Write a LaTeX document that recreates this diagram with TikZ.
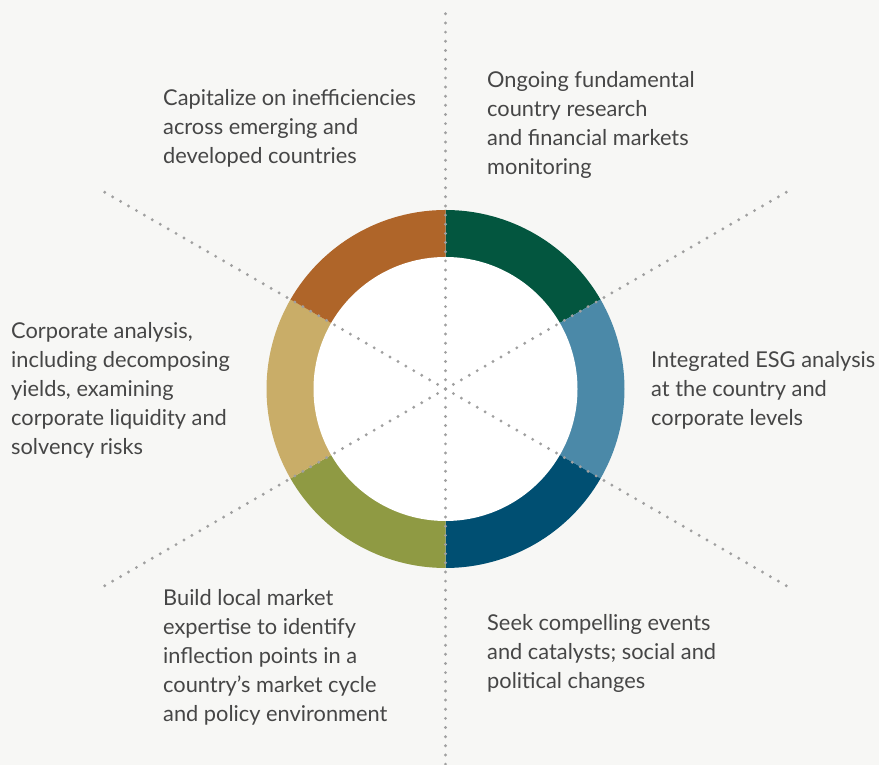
\documentclass[tikz,border=0pt]{standalone}
\usepackage{fontspec}
\setmainfont{Lato}
\definecolor{bgcol}{HTML}{F7F7F5}
\definecolor{txtcol}{HTML}{464646}
\definecolor{dotcol}{HTML}{A0A0A0}
\definecolor{ringgreen}{HTML}{03563F}
\definecolor{ringsteel}{HTML}{4B89A8}
\definecolor{ringnavy}{HTML}{004F72}
\definecolor{ringolive}{HTML}{8F9A43}
\definecolor{ringtan}{HTML}{C9AD68}
\definecolor{ringrust}{HTML}{AF6529}
\tikzset{
  guide/.style={dotcol,line width=3.2pt,line cap=round,dash pattern=on 0pt off 9.15pt},
  label/.style={anchor=north west,inner sep=0pt,align=left,text=txtcol,
    font=\fontsize{21.8}{29}\selectfont}
}
\begin{document}
\begin{tikzpicture}[x=1pt,y=1pt]
  \useasboundingbox[fill=bgcol] (0,0) rectangle (879,765);
  \coordinate (c) at (445.5,376);
  \foreach \a/\col in {90/ringgreen,30/ringsteel,-30/ringnavy,-90/ringolive,-150/ringtan,150/ringrust}
    \fill[\col] (c) -- ++(\a:179) arc[start angle=\a,end angle=\a-60,radius=179] -- cycle;
  \fill[white] (c) circle (132);
  \draw[guide] (c) -- ++(90:376);
  \draw[guide] (c) -- ++(-90:394);
  \foreach \a in {30,150,210,330}
    \draw[guide] (c) -- ++(\a:394);

  \node[label] (capitalize) at (163,676) {Capitalize on inefficiencies\\across emerging and\\developed countries};
  \node[label] (ongoing) at (487,694) {Ongoing fundamental\\country research\\and financial markets\\monitoring};
  \node[label] (corporate) at (11,443) {Corporate analysis,\\including decomposing\\yields, examining\\corporate liquidity and\\solvency risks};
  \node[label] (esg) at (651,414) {Integrated ESG analysis\\at the country and\\corporate levels};
  \node[label] (local) at (163,176) {Build local market\\expertise to identify\\inflection points in a\\country’s market cycle\\and policy environment};
  \node[label] (events) at (487,151) {Seek compelling events\\and catalysts; social and\\political changes};
\end{tikzpicture}
\end{document}
